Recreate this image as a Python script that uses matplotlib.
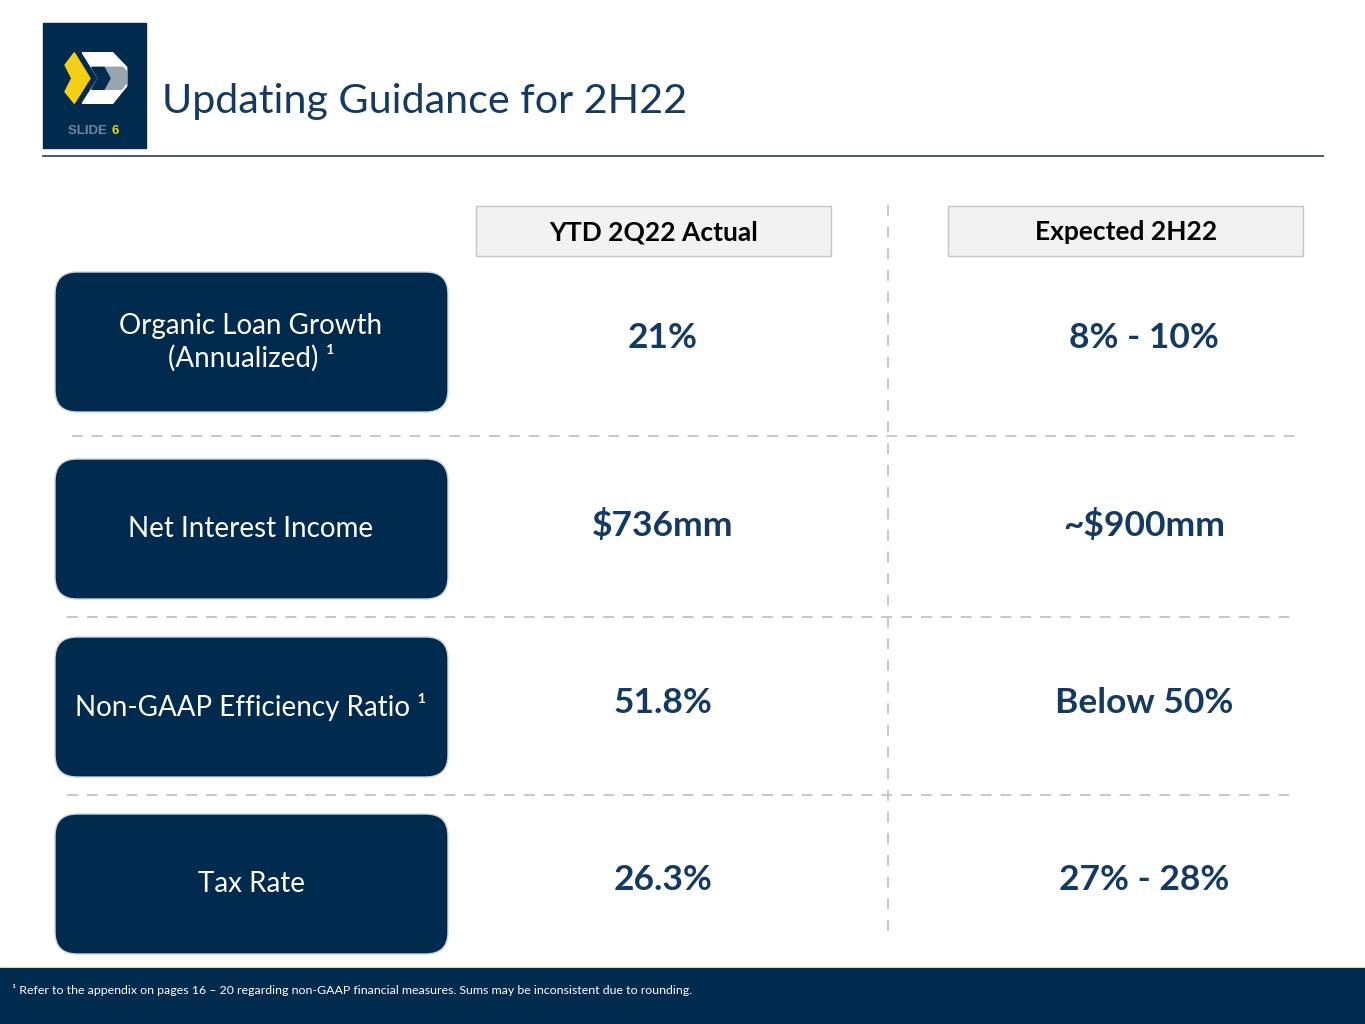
import matplotlib.pyplot as plt
from matplotlib.patches import FancyBboxPatch, Rectangle, Polygon

# slide content
title = "Updating Guidance for 2H22"
columns = ["YTD 2Q22 Actual", "Expected 2H22"]
metrics = ["Organic Loan Growth\n(Annualized) \u00b9", "Net Interest Income",
           "Non-GAAP Efficiency Ratio \u00b9", "Tax Rate"]
ytd_actual = ["21%", "$736mm", "51.8%", "26.3%"]
expected_2h22 = ["8% - 10%", "~$900mm", "Below 50%", "27% - 28%"]
footnote = "Refer to the appendix on pages 16 \u2013 20 regarding non-GAAP financial measures. Sums may be inconsistent due to rounding."

NAVY = "#002a4e"
TEXT_NAVY = "#143a63"
DASH = "#c3c3c3"
plt.rcParams['font.family'] = ['Lato', 'DejaVu Sans']

fig = plt.figure(figsize=(13.65, 10.24), dpi=100)
ax = fig.add_axes([0, 0, 1, 1])
ax.set_xlim(0, 1365)
ax.set_ylim(1024, 0)
ax.axis('off')

# logo block
ax.add_patch(Rectangle((43, 23), 103, 125, color=NAVY))
ax.add_patch(Polygon([(74.3, 52.7), (90, 78.3), (74.3, 103.3), (65, 91.7), (71.7, 78.3), (65, 65)],
                     color="#f5cf14"))
ax.add_patch(Polygon([(82.3, 52.7), (112.7, 52.7), (126.7, 67.3), (126.7, 86), (112.7, 103.3),
                      (82.3, 103.3), (98.3, 78.3)], color="white"))
ax.add_patch(Polygon([(104, 67.3), (122.7, 67.3), (126.7, 71.7), (126.7, 82.7), (121.7, 89.3),
                      (104, 89.3), (110, 78.3)], color="#98a4ae"))
ax.add_patch(Polygon([(91.7, 67.3), (104, 67.3), (110, 78.3), (104, 89.3), (91.7, 89.3), (98.3, 78.3)],
                     color=NAVY))
ax.text(111, 131, "SLIDE ", color="#6f87a2", fontsize=9.5, fontweight='bold',
        family='Liberation Sans', ha='right', va='center')
ax.text(111, 131, "6", color="#f0d300", fontsize=9.5, fontweight='bold',
        family='Liberation Sans', ha='left', va='center')

# title and rule
ax.text(162, 101, title, color=TEXT_NAVY, fontsize=29.7, ha='left', va='center')
ax.plot([43, 1323], [156, 156], color="#3d4a66", lw=1.3)

# column headers
for x0 in [476, 948]:
    ax.add_patch(Rectangle((x0, 206), 355, 50, facecolor="#f2f2f2", edgecolor="#c6c6c6", lw=1))
hdr_x = [653.5, 1126]
for hx, label in zip(hdr_x, columns):
    ax.text(hx, 232, label, color="black", fontsize=19, fontweight='bold', ha='center', va='center')

# dashed separators
ax.plot([888, 888], [205, 935], color=DASH, lw=1.3, dashes=(6, 6))
for y, x0, x1 in [(436, 72, 1300), (617, 67, 1295), (795, 67, 1295)]:
    ax.plot([x0, x1], [y, y], color=DASH, lw=1.3, dashes=(6, 5))

# rows
col_x = [663, 1144]
row_top = [272, 459, 637, 814]
for top, name, v1, v2 in zip(row_top, metrics, ytd_actual, expected_2h22):
    ax.add_patch(FancyBboxPatch((55, top), 393, 140, boxstyle="round,pad=0,rounding_size=22",
                                facecolor=NAVY, edgecolor="#d0d4da", lw=1))
    cy = top + 70
    ax.text(251, cy, name, color="white", fontsize=20, ha='center', va='center',
            linespacing=1.25)
    ax.text(col_x[0], cy - 4, v1, color=TEXT_NAVY, fontsize=25.5, fontweight='bold',
            ha='center', va='center')
    ax.text(col_x[1], cy - 4, v2, color=TEXT_NAVY, fontsize=25.5, fontweight='bold',
            ha='center', va='center')

# footer band
ax.add_patch(Rectangle((0, 968), 1365, 56, color=NAVY))
ax.text(12, 990, "\u00b9 " + footnote, color="white", fontsize=8.9, ha='left', va='center')

fig.savefig("out.png", dpi=100)
